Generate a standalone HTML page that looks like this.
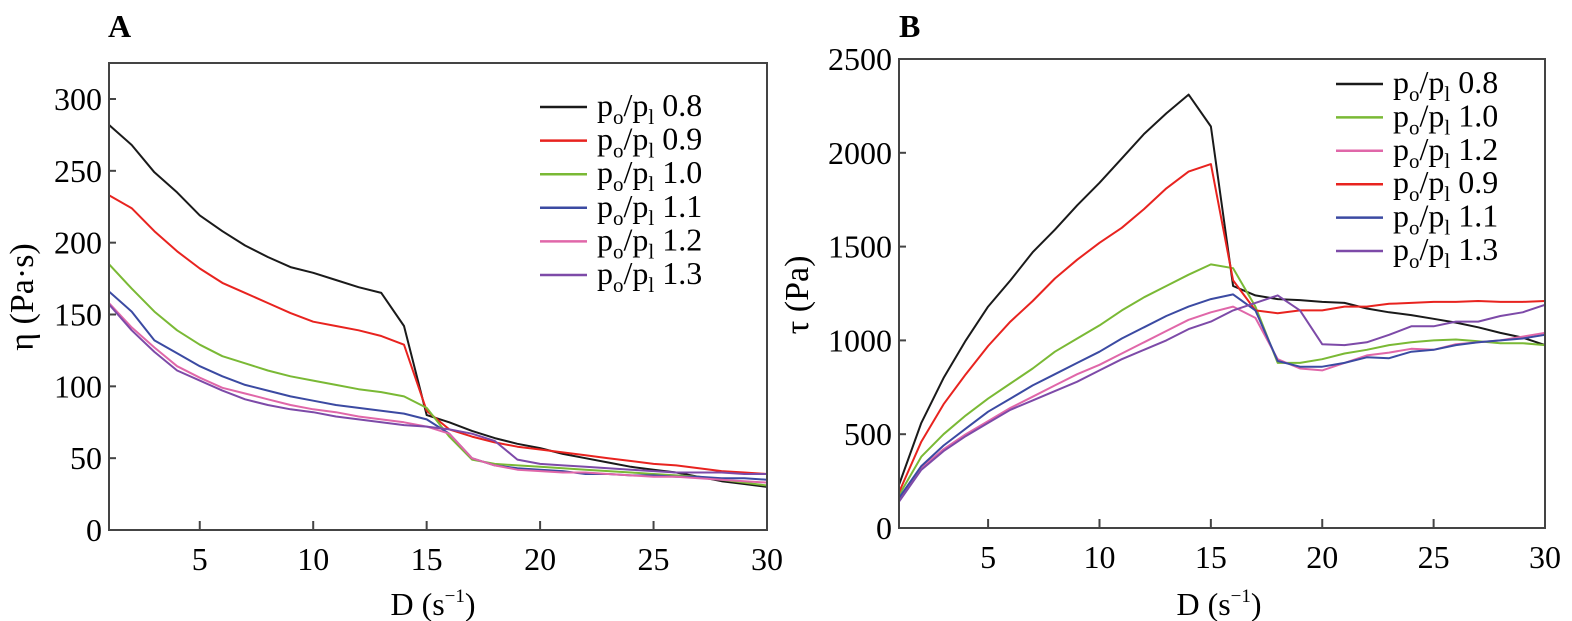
<!DOCTYPE html>
<html><head><meta charset="utf-8">
<style>
html,body{margin:0;padding:0;background:#fff;}
svg{display:block;font-family:"Liberation Serif",serif;}
</style></head>
<body>
<svg id="chart" width="1572" height="621" viewBox="0 0 1572 621" xmlns="http://www.w3.org/2000/svg">
<text x="108" y="37" font-size="32" font-weight="bold">A</text>
<text x="899" y="37" font-size="32" font-weight="bold">B</text>
<text transform="translate(33,297) rotate(-90)" text-anchor="middle" font-size="34">η (Pa·s)</text>
<text transform="translate(808,295) rotate(-90)" text-anchor="middle" font-size="34">τ (Pa)</text>
<text x="433" y="615" text-anchor="middle" font-size="32">D (s<tspan font-size="19" dy="-13">−1</tspan><tspan dy="13">)</tspan></text>
<text x="1219" y="615" text-anchor="middle" font-size="32">D (s<tspan font-size="19" dy="-13">−1</tspan><tspan dy="13">)</tspan></text>
<g id="ga"></g>
<g id="gb"></g>
</svg>
<script>
const xValues = [1,2,3,4,5,6,7,8,9,10,11,12,13,14,15,16,17,18,19,20,21,22,23,24,25,26,27,28,29,30];
const xTicks = [5,10,15,20,25,30];
const aTicks = [0,50,100,150,200,250,300];
const bTicks = [0,500,1000,1500,2000,2500];

const aNames = ["0.8","0.9","1.0","1.1","1.2","1.3"];
const aColors = ["#1a1a1a","#e8231f","#7ab935","#3b4aa2","#e067a9","#7d4aa8"];
const a08 = [282,268,249,235,219,208,198,190,183,179,174,169,165,142,80,75,69,64,60,57,53,50,47,44,42,40,37,34,32,30];
const a09 = [233,224,208,194,182,172,165,158,151,145,142,139,135,129,83,70,65,61,58,56,54,52,50,48,46,45,43,41,40,39];
const a10 = [185,168,152,139,129,121,116,111,107,104,101,98,96,93,85,65,49,46,45,44,43,42,41,40,39,38,37,35,33,31];
const a11 = [166,152,132,123,114,107,101,97,93,90,87,85,83,81,77,67,50,45,43,42,41,39,39,38,38,37,37,36,36,35];
const a12 = [158,141,127,114,106,99,95,91,87,84,82,79,77,75,72,67,50,45,42,41,40,40,39,38,37,37,36,35,34,33];
const a13 = [157,139,124,111,104,97,91,87,84,82,79,77,75,73,72,70,67,62,49,46,45,44,43,42,41,40,40,40,39,39];

const bNames = ["0.8","1.0","1.2","0.9","1.1","1.3"];
const bColors = ["#1a1a1a","#7ab935","#e067a9","#e8231f","#3b4aa2","#7d4aa8"];
const b08 = [230,560,800,1000,1180,1320,1470,1590,1720,1840,1970,2100,2210,2310,2140,1290,1240,1220,1215,1205,1200,1170,1150,1135,1115,1095,1070,1040,1015,975];
const b09 = [190,460,660,820,970,1100,1210,1330,1430,1520,1600,1700,1810,1900,1940,1320,1160,1145,1160,1160,1180,1180,1195,1200,1205,1205,1210,1205,1205,1210];
const b10 = [175,380,500,600,690,770,850,940,1010,1080,1160,1230,1290,1350,1405,1385,1180,880,880,900,930,950,975,990,1000,1005,995,985,985,975];
const b11 = [160,330,440,530,620,690,760,820,880,940,1010,1070,1130,1180,1220,1245,1160,890,860,860,880,910,905,940,950,975,990,1000,1010,1030];
const b12 = [150,320,420,500,570,640,700,760,820,870,930,990,1050,1110,1150,1180,1120,900,850,840,880,920,935,955,950,980,990,1000,1020,1040];
const b13 = [140,310,410,490,560,630,680,730,780,840,900,950,1000,1060,1100,1160,1200,1240,1160,980,975,990,1030,1075,1075,1100,1100,1130,1150,1190];

const NS = "http://www.w3.org/2000/svg";
function mk(tag, attrs, parent){const e=document.createElementNS(NS,tag);for(const k in attrs)e.setAttribute(k,attrs[k]);parent.appendChild(e);return e;}

function panel(g, id, L, R, T, B, ymax, yTop, ticks, series, names, colors, legX, legY, legGap){
  const xs = v => L + (v-1)/(29)*(R-L);
  const ys = v => B - v/ymax*(B-yTop);
  series.forEach((s,i)=>{
    const p = mk("polyline",{points:s.map((v,j)=>xs(xValues[j]).toFixed(1)+","+ys(v).toFixed(1)).join(" "),fill:"none",stroke:colors[i],"stroke-width":"2","stroke-linejoin":"round"},g);
    
    
  });
  const fr = mk("rect",{x:L,y:T,width:R-L,height:B-T,fill:"none",stroke:"#444","stroke-width":"2"},g);
  
  
  ticks.forEach(t=>{
    const y=ys(t);
    if(t>0){const l=mk("line",{x1:L,x2:L+7,y1:y,y2:y,stroke:"#444","stroke-width":"2"},g);
      
      }
    const tx=mk("text",{x:L-7,y:y+11,"text-anchor":"end","font-size":"32"},g);
    tx.textContent=t;
    
    
  });
  xTicks.forEach(t=>{
    const x=xs(t);
    if(t<30){const l=mk("line",{x1:x,x2:x,y1:B,y2:B-9,stroke:"#444","stroke-width":"2"},g);
      
      }
    const tx=mk("text",{x:x,y:B+40,"text-anchor":"middle","font-size":"32"},g);
    tx.textContent=t;
    
    
  });
  names.forEach((n,i)=>{
    const y=legY+i*legGap;
    const lg=mk("g",{},g);
    
    
    mk("line",{x1:legX,x2:legX+47,y1:y,y2:y,stroke:colors[i],"stroke-width":"2.5"},lg);
    const tx=mk("text",{x:legX+57,y:y+9,"font-size":"32"},lg);
    tx.innerHTML='p<tspan font-size="21" dy="8">o</tspan><tspan dy="-8">/p</tspan><tspan font-size="21" dy="8">l</tspan><tspan dy="-8"> '+n+'</tspan>';
  });
}
panel(document.getElementById("ga"),"panel-a",109,767,63,530,300,99,aTicks,[a08,a09,a10,a11,a12,a13],aNames,aColors,540,107,33.6);
panel(document.getElementById("gb"),"panel-b",899,1545,59,528,2500,59,bTicks,[b08,b10,b12,b09,b11,b13],bNames,bColors,1336,84,33.4);
</script>
</body></html>
